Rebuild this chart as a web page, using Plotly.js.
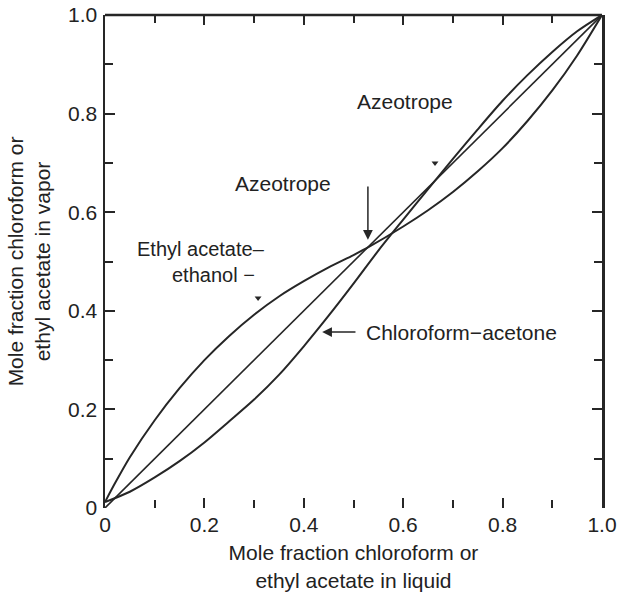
<!DOCTYPE html>
<html>
<head>
<meta charset="utf-8">
<script src="https://cdn.plot.ly/plotly-3.0.1.min.js"></script>
<style>
html,body{margin:0;padding:0;background:#fff;}
#chart{width:630px;height:596px;}
</style>
</head>
<body>
<div id="chart"></div>
<script>
// Diagonal (y = x)
const diagX = [0, 1];
const diagY = [0, 1];

// Ethyl acetate–ethanol (minimum-boiling azeotrope near x = 0.53)
const eaX = [0, 0.02, 0.05, 0.1, 0.15, 0.2, 0.25, 0.3, 0.35, 0.4, 0.45, 0.5, 0.53, 0.6, 0.65, 0.7, 0.75, 0.8, 0.85, 0.9, 0.95, 1.0];
const eaY = [0.012, 0.05, 0.103, 0.178, 0.243, 0.30, 0.349, 0.392, 0.429, 0.46, 0.488, 0.513, 0.529, 0.571, 0.604, 0.641, 0.683, 0.73, 0.785, 0.847, 0.918, 1.0];

// Chloroform–acetone (maximum-boiling azeotrope near x = 0.66)
const caX = [0, 0.05, 0.1, 0.15, 0.2, 0.25, 0.3, 0.35, 0.4, 0.45, 0.5, 0.55, 0.6, 0.65, 0.7, 0.75, 0.8, 0.85, 0.9, 0.95, 1.0];
const caY = [0.012, 0.033, 0.062, 0.095, 0.133, 0.176, 0.22, 0.27, 0.328, 0.39, 0.455, 0.522, 0.585, 0.647, 0.708, 0.768, 0.826, 0.878, 0.925, 0.967, 1.0];

// Small triangle marks seen on the figure
const markX = [0.308, 0.664];
const markY = [0.426, 0.70];

// Tick labels
const tickVals = [0, 0.2, 0.4, 0.6, 0.8, 1.0];
const tickText = ["0", "0.2", "0.4", "0.6", "0.8", "1.0"];

const ink = '#262626';
const fontFam = '"Liberation Sans", Arial, Helvetica, sans-serif';
const fs = 21;

const traces = [
  {x: diagX, y: diagY, mode: 'lines', line: {color: ink, width: 1.6}, hoverinfo: 'skip'},
  {x: eaX, y: eaY, mode: 'lines', line: {color: ink, width: 2, shape: 'spline', smoothing: 0.8}, hoverinfo: 'skip'},
  {x: caX, y: caY, mode: 'lines', line: {color: ink, width: 2, shape: 'spline', smoothing: 0.8}, hoverinfo: 'skip'},
  {x: markX, y: markY, mode: 'markers', marker: {symbol: 'triangle-down', size: 6, color: ink}, hoverinfo: 'skip'}
];

const axisCommon = {
  range: [0, 1],
  tickvals: tickVals,
  ticktext: tickText,
  ticks: 'inside',
  ticklen: 10,
  tickwidth: 2,
  tickcolor: ink,
  showgrid: false,
  zeroline: false,
  tickfont: {family: fontFam, size: fs, color: '#222'},
  minor: {dtick: 0.1, ticks: 'inside', ticklen: 8, tickwidth: 2, tickcolor: ink, showgrid: false},
  fixedrange: true
};

const layout = {
  width: 630,
  height: 596,
  margin: {l: 105, r: 28, t: 15, b: 88},
  paper_bgcolor: '#fff',
  plot_bgcolor: '#fff',
  showlegend: false,
  font: {family: fontFam, size: fs, color: '#222'},
  xaxis: Object.assign({}, axisCommon, {
    showline: false,
    mirror: 'ticks',
    ticklabelstandoff: 2,
    title: {text: 'Mole fraction chloroform or<br>ethyl acetate in liquid', font: {family: fontFam, size: fs, color: '#222'}, standoff: 10}
  }),
  yaxis: Object.assign({}, axisCommon, {
    showline: true,
    linewidth: 2.5,
    linecolor: ink,
    mirror: 'ticks',
    ticklabelstandoff: 1,
    title: {text: 'Mole fraction chloroform or<br>ethyl acetate in vapor', font: {family: fontFam, size: fs, color: '#222'}, standoff: 12}
  }),
  shapes: [
    {type: 'line', xref: 'paper', yref: 'paper', x0: 0, x1: 1, y0: 1, y1: 1, line: {color: ink, width: 2.5}}
  ],
  annotations: [
    {x: 0.604, y: 0.824, xref: 'x', yref: 'y', text: 'Azeotrope', showarrow: false, font: {size: fs}},
    {x: 0.358, y: 0.659, xref: 'x', yref: 'y', text: 'Azeotrope', showarrow: false, font: {size: fs}},
    {x: 0.529, y: 0.544, ax: 0.529, ay: 0.655, xref: 'x', yref: 'y', axref: 'x', ayref: 'y', text: '', showarrow: true, arrowhead: 2, arrowsize: 1.3, arrowwidth: 1.5, arrowcolor: ink},
    {x: 0.193, y: 0.525, xref: 'x', yref: 'y', text: 'Ethyl acetate–', showarrow: false, font: {size: 20}},
    {x: 0.218, y: 0.472, xref: 'x', yref: 'y', text: 'ethanol −', showarrow: false, font: {size: 20}},
    {x: 0.521, y: 0.357, xref: 'x', yref: 'y', text: 'Chloroform−acetone', xanchor: 'left', showarrow: false, font: {size: fs}},
    {x: 0.437, y: 0.357, ax: 0.507, ay: 0.357, xref: 'x', yref: 'y', axref: 'x', ayref: 'y', text: '', showarrow: true, arrowhead: 2, arrowsize: 1.3, arrowwidth: 1.5, arrowcolor: ink}
  ]
};

Plotly.newPlot('chart', traces, layout, {staticPlot: true, displayModeBar: false});
</script>
</body>
</html>
